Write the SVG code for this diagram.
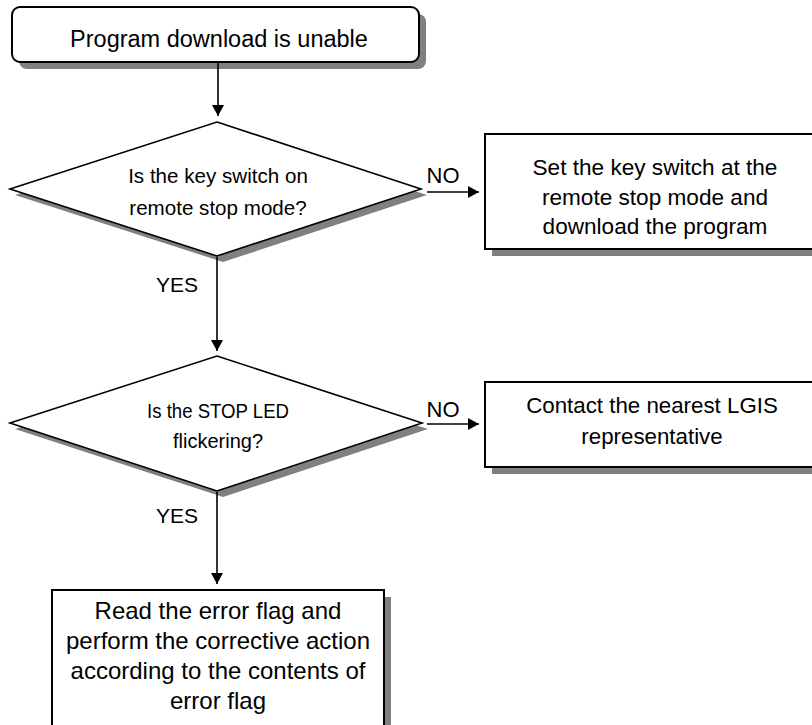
<svg xmlns="http://www.w3.org/2000/svg" width="812" height="725" viewBox="0 0 812 725">
<style>
.sh{fill:#808080;stroke:none}
.bx{fill:#fff;stroke:#000;stroke-width:2}
.dm{fill:#fff;stroke:#000;stroke-width:1.6}
.t{font-family:"Liberation Sans",Arial,sans-serif;fill:#000;text-anchor:middle}
.ln{stroke:#000;stroke-width:1.6;fill:none}
</style>
<defs>
<marker id="ah" markerWidth="12" markerHeight="12" refX="11" refY="6" orient="auto" markerUnits="userSpaceOnUse">
<path d="M0,0 L11,6 L0,12 Z" fill="#000"/>
</marker>
</defs>
<rect width="812" height="725" fill="#fff"/>
<g id="start">
<rect class="sh" x="19" y="14" width="407" height="55" rx="8"/>
<rect class="bx" x="12" y="7" width="407" height="55" rx="8"/>
<text class="t" x="219" y="47" font-size="23.5">Program download is unable</text>
</g>
<g id="decision1">
<polygon class="sh" points="223,128 427,195 223,262 15,195"/>
<polygon class="dm" points="217,122 421,189 217,256 10,189"/>
<text class="t" x="218" y="183" font-size="20.6">Is the key switch on</text>
<text class="t" x="218" y="215" font-size="20.6">remote stop mode?</text>
</g>
<g id="setkey">
<rect class="sh" x="492" y="141" width="340" height="115"/>
<rect class="bx" x="485" y="134" width="340" height="115"/>
<text class="t" x="655" y="175" font-size="22.6">Set the key switch at the</text>
<text class="t" x="655" y="205" font-size="22.6">remote stop mode and</text>
<text class="t" x="655" y="234" font-size="22.6">download the program</text>
</g>
<g id="decision2">
<polygon class="sh" points="223,362 428,429 223,497 15,429"/>
<polygon class="dm" points="217,356 422,423 217,491 10,423"/>
<text class="t" x="218" y="418" font-size="21" textLength="142" lengthAdjust="spacingAndGlyphs">Is the STOP LED</text>
<text class="t" x="218" y="448" font-size="21" textLength="90" lengthAdjust="spacingAndGlyphs">flickering?</text>
</g>
<g id="contact">
<rect class="sh" x="492" y="389" width="340" height="85"/>
<rect class="bx" x="485" y="382" width="340" height="85"/>
<text class="t" x="652" y="413" font-size="22.3">Contact the nearest LGIS</text>
<text class="t" x="652" y="444" font-size="22.3">representative</text>
</g>
<g id="readflag">
<rect class="sh" x="59" y="597" width="332" height="140"/>
<rect class="bx" x="52" y="590" width="332" height="140"/>
<text class="t" x="218" y="619" font-size="24">Read the error flag and</text>
<text class="t" x="218" y="649" font-size="24">perform the corrective action</text>
<text class="t" x="218" y="679" font-size="24">according to the contents of</text>
<text class="t" x="218" y="709" font-size="24">error flag</text>
</g>
<g id="connectors">
<line class="ln" x1="218" y1="63" x2="218" y2="116" marker-end="url(#ah)"/>
<line class="ln" x1="217" y1="257" x2="217" y2="351" marker-end="url(#ah)"/>
<line class="ln" x1="217" y1="492" x2="217" y2="584" marker-end="url(#ah)"/>
<line class="ln" x1="427" y1="192" x2="479" y2="192" marker-end="url(#ah)"/>
<line class="ln" x1="427" y1="424" x2="479" y2="424" marker-end="url(#ah)"/>
<text class="t" x="443" y="183" font-size="22">NO</text>
<text class="t" x="443" y="417" font-size="22">NO</text>
<text class="t" x="177" y="292" font-size="21">YES</text>
<text class="t" x="177" y="523" font-size="21">YES</text>
</g>
</svg>
